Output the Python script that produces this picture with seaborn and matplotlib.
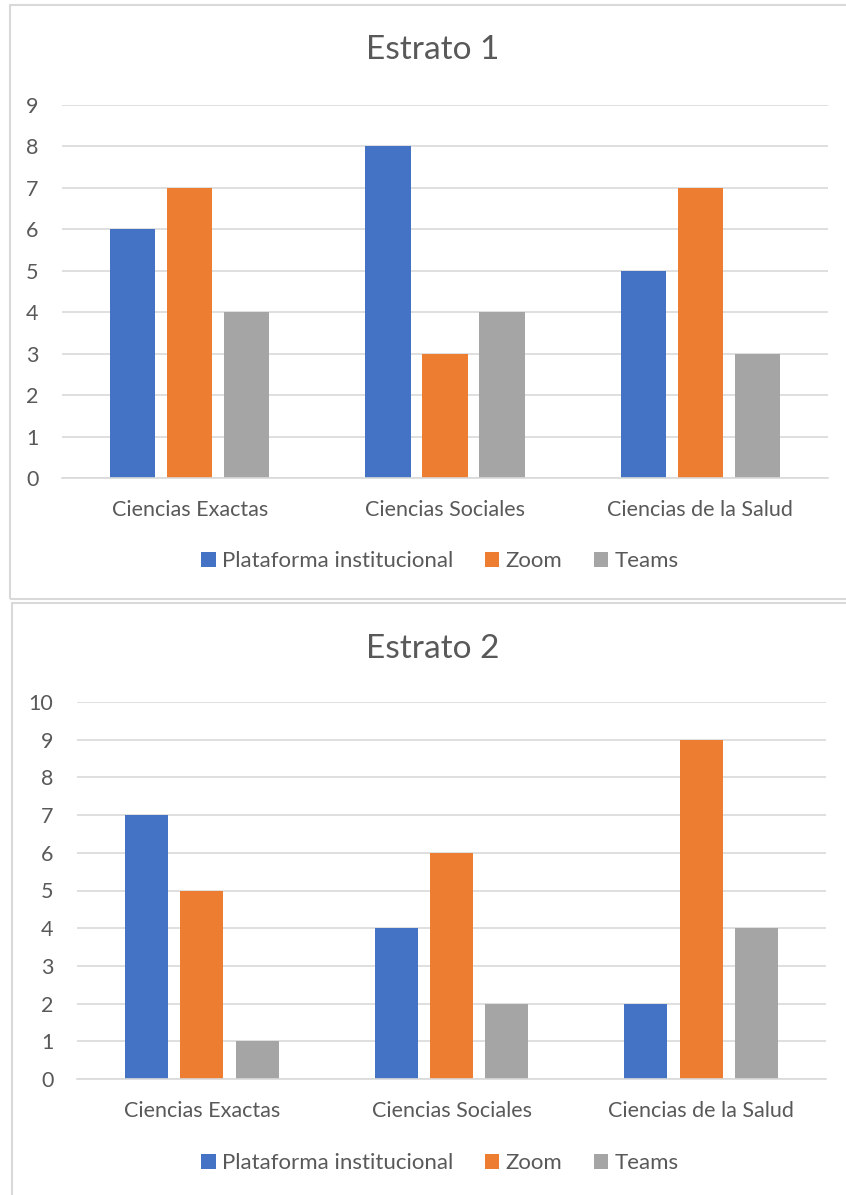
import matplotlib
matplotlib.use("Agg")
import matplotlib.pyplot as plt
from matplotlib.patches import Rectangle
import seaborn as sns
import pandas as pd

# Survey counts per knowledge area and platform, for each stratum
categories = ["Ciencias Exactas", "Ciencias Sociales", "Ciencias de la Salud"]
platforms = ["Plataforma institucional", "Zoom", "Teams"]
estrato1_institucional = [6, 8, 5]
estrato1_zoom = [7, 3, 7]
estrato1_teams = [4, 4, 3]
estrato2_institucional = [7, 4, 2]
estrato2_zoom = [5, 6, 9]
estrato2_teams = [1, 2, 4]
titles = ["Estrato 1", "Estrato 2"]
y_maxes = [9, 10]

colors = ["#4472C4", "#ED7D31", "#A5A5A5"]
text_color = "#595959"
grid_color = "#D9D9D9"

sns.set_theme(style="white")
plt.rcParams["font.family"] = ["Lato", "DejaVu Sans"]

W, H = 846, 1195
fig = plt.figure(figsize=(W / 100, H / 100), dpi=100)


def frac_box(x0, y0, x1, y1):
    """Convert pixel box (top-left origin) to figure fraction rect."""
    return [x0 / W, 1 - y1 / H, (x1 - x0) / W, (y1 - y0) / H]


def long_table(inst, zoom, teams):
    rows = []
    for series, vals in zip(platforms, [inst, zoom, teams]):
        for cat, v in zip(categories, vals):
            rows.append({"area": cat, "plataforma": series, "valor": v})
    return pd.DataFrame(rows)


panels = [
    dict(frame=(9.5, 5, 850, 598.5), axes=(62, 105, 828, 478),
         title_y=50, legend_y=561, width=0.67, gap=0.21,
         data=long_table(estrato1_institucional, estrato1_zoom, estrato1_teams)),
    dict(frame=(12, 603, 850, 1200), axes=(77, 702, 826, 1079),
         title_y=649, legend_y=1163, width=0.666, gap=0.225,
         data=long_table(estrato2_institucional, estrato2_zoom, estrato2_teams)),
]

for i, p in enumerate(panels):
    fx0, fy0, fx1, fy1 = p["frame"]
    fig.patches.append(Rectangle((fx0 / W, 1 - fy1 / H), (fx1 - fx0) / W, (fy1 - fy0) / H,
                                 transform=fig.transFigure, fill=False,
                                 edgecolor=grid_color, linewidth=1.5, zorder=0))
    ax = fig.add_axes(frac_box(*p["axes"]))
    sns.barplot(data=p["data"], x="area", y="valor", hue="plataforma",
                hue_order=platforms, palette=colors, width=p["width"], gap=p["gap"],
                saturation=1, linewidth=0, edgecolor="none", ax=ax, legend=False)
    ax.set_ylim(0, y_maxes[i])
    ax.set_yticks(range(0, y_maxes[i] + 1))
    ax.set_xlim(-0.5, 2.5)
    ax.yaxis.grid(True, color=grid_color, linewidth=1.2)
    ax.set_axisbelow(True)
    for s in ["top", "right", "left"]:
        ax.spines[s].set_visible(False)
    ax.spines["bottom"].set_color(grid_color)
    ax.spines["bottom"].set_linewidth(1.2)
    ax.set_xlabel("")
    ax.set_ylabel("")
    ax.tick_params(axis="both", length=0, labelsize=15.5, colors=text_color)
    ax.tick_params(axis="y", pad=17)
    ax.tick_params(axis="x", pad=16)
    fig.text(433 / W, 1 - p["title_y"] / H, titles[i], ha="center", va="center",
             fontsize=24, color=text_color)
    handles = [Rectangle((0, 0), 1, 1, facecolor=c, edgecolor="none") for c in colors]
    fig.legend(handles, platforms, loc="center", bbox_to_anchor=(440 / W, 1 - p["legend_y"] / H),
               ncol=3, frameon=False, fontsize=16, labelcolor=text_color,
               handlelength=0.65, handleheight=0.65, handletextpad=0.3, columnspacing=1.4)

fig.savefig("out.png", dpi=100, facecolor="white")
